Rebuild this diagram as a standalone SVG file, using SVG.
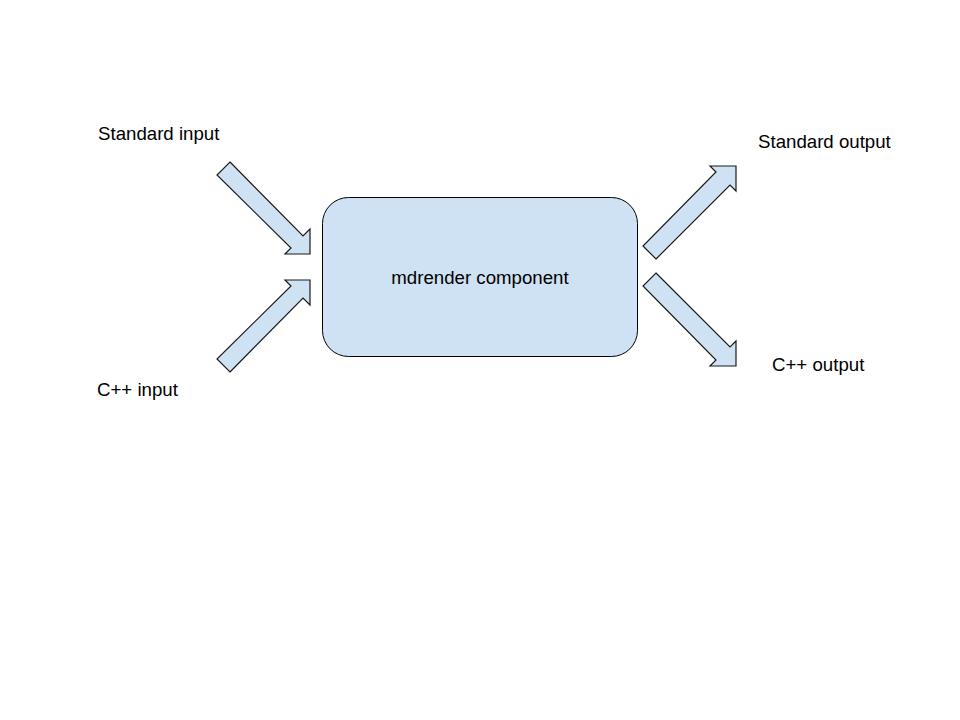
<svg xmlns="http://www.w3.org/2000/svg" width="960" height="720" viewBox="0 0 960 720">
<style>
.lbl{font-family:"Liberation Sans",Arial,sans-serif;font-size:18.67px;fill:#000}
.arr{fill:#cfe2f3;stroke:#1a1a1a;stroke-width:1.2;stroke-linejoin:miter}
.box{fill:#cfe2f3;stroke:#000;stroke-width:1}
</style>
<rect width="960" height="720" fill="#fff"/>
<g id="connectors">
<path id="arrow-std-in" class="arr" d="M230,162 L303,236 L310,229 L310,254 L285,254 L291,248 L217,175 Z"/>
<path id="arrow-cpp-in" class="arr" d="M230,372 L303,298 L310,305 L310,280 L285,280 L291,286 L217,359 Z"/>
<path id="arrow-std-out" class="arr" d="M656,259 L730,185 L736,191 L736,166 L710,166 L716,172 L643,246 Z"/>
<path id="arrow-cpp-out" class="arr" d="M656,273 L730,347 L736,341 L736,366 L710,366 L716,360 L643,286 Z"/>
</g>
<g id="mdrender">
<rect class="box" x="322.5" y="197.5" width="315" height="159" rx="26" ry="26"/>
<text class="lbl" x="480" y="284" text-anchor="middle">mdrender component</text>
</g>
<g id="standard-input"><text class="lbl" x="98" y="140">Standard input</text></g>
<g id="cpp-input"><text class="lbl" x="97" y="396">C++ input</text></g>
<g id="standard-output"><text class="lbl" x="758" y="148">Standard output</text></g>
<g id="cpp-output"><text class="lbl" x="772" y="371">C++ output</text></g>
</svg>
